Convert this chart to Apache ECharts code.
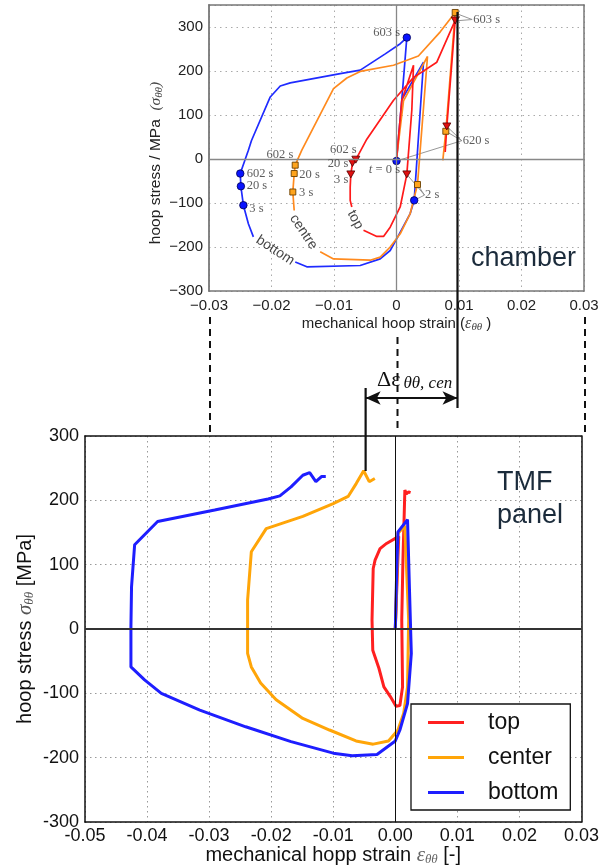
<!DOCTYPE html>
<html><head><meta charset="utf-8">
<script src="https://cdn.jsdelivr.net/npm/echarts@6/dist/echarts.min.js"></script>
<style>html,body{margin:0;padding:0;background:#fff}#c{width:602px;height:867px}</style>
</head><body><div id="c"></div>
<script>
// ---------- top chart (chamber): [strain, stress MPa] ----------
const GAP = ['-', '-'];
const chamberBottom = [[0,-4.5],[0.00085,135],[0.00432,220],[0.00283,-94],[0.00219,-124],[0.00005,-181],[-0.00101,-208],[-0.00261,-227],[-0.00581,-242],[-0.01435,-245],[-0.0162,-234],GAP,
  [-0.0229,-177],[-0.0237,-147],[-0.0245,-105],[-0.0249,-62],[-0.025,-33],[-0.0237,20],[-0.0232,42],[-0.0202,141],[-0.0186,166],[-0.0170,173],[-0.0090,194],[-0.0058,202],[-0.0018,239],[0.0006,262],[0.00165,276],[0.00085,135]];
const chamberCentre = [[0,0],[0.00112,132],[0.00496,233],[0.00336,-58],[0.00219,-124],[0.00059,-170],[-0.00101,-200],[-0.00261,-223],[-0.00421,-230],[-0.01008,-227],[-0.01221,-211],GAP,
  [-0.01637,-117],[-0.01659,-75],[-0.01637,-33],[-0.01621,-14],[-0.01515,20],[-0.01008,160],[-0.00795,184],[-0.0058,199],[-0.00048,213],[0.0035,234],[0.007,289],[0.00939,333],[0.00789,63],[0.00741,-3]];
const chamberTop = [[0,0],[0.00085,133],[0.00272,213],[0.00299,209],[0.00245,111],[0.00165,-35],[0.00059,-109],[-0.00101,-155],[-0.00208,-176],[-0.00315,-176],[-0.00528,-162],GAP,
  [-0.00715,-109],[-0.00741,-94],[-0.00741,-64],[-0.00731,-35],[-0.00704,-9],[-0.00651,-1.5],[-0.00475,45],[-0.0005,133],[0.0027,185],[0.00645,220],[0.00939,315],[0.00805,74],[0.00779,16]];
const markBottom = [[0,-4.5],[0.00283,-94],[-0.0245,-105],[-0.0249,-62],[-0.025,-33],[0.00165,276]];
const markCentre = [[0.00336,-58],[-0.01659,-75],[-0.01637,-33],[-0.01621,-14],[0.00939,333],[0.00789,63]];
const markTop = [[0.00165,-35],[-0.00731,-35],[-0.00704,-9],[-0.00651,-1.5],[0.00939,315],[0.00805,74]];
// time labels: [strain, stress, text]
const timeLabelsLeftAligned = [[-0.02397,-32.5,'602 s'],[-0.02397,-61,'20 s'],[-0.02355,-112,'3 s'],[-0.01555,-35,'20 s'],[-0.0156,-77,'3 s'],[0.00456,-82,'2 s'],[0.01059,41.6,'620 s'],[0.01229,316,'603 s']];
const timeLabelsRightAligned = [[-0.01651,9,'602 s'],[-0.00637,20,'602 s'],[-0.00771,-11,'20 s'],[-0.00771,-46,'3 s'],[0.00056,-23.5,'{i|t} = 0 s'],[0.00056,286,'603 s']];
const leaders = [
  [[0.0121,317],[0.0095,331]],[[0.0121,317],[0.0095,314]],
  [[0.01045,41.6],[0.00805,74]],[[0.01045,41.6],[0.00789,63]],[[0.01045,41.6],[0,-4.5]],
  [[0.00448,-82],[0.00165,-35]],[[0.00448,-82],[0.00336,-58]],[[0.00448,-82],[0.00283,-94]]
];
const curveNames = [[-0.0194,-208,'bottom',-33],[-0.01488,-166,'centre',-56],[-0.00661,-138,'top',-62]];
const topXTicks = {min:-0.03, max:0.03, step:0.01};
const topYTicks = {min:-300, max:350, step:100};

// ---------- bottom chart (TMF panel) ----------
const panelTop = [[0,0],[0.00055,144],[-0.00141,133],[-0.00246,125],[-0.00326,107],[-0.00356,94],[-0.00375,14],[-0.00363,-33],[-0.00264,-61],[-0.00184,-90],[-0.0008,-105],[0.00012,-120],[0.00074,-119],[0.00117,-90],[0.00104,14],[0.00123,107],[0.00141,169],[0.00154,216],[0.00178,210],[0.00215,213],[0.00246,212]];
const panelCenter = [[0,0],[0.0003,100],[0.00043,149],[0.00154,160],[0.00215,14],[0.00197,-90],[0.00135,-131],[0.00043,-157],[-0.0011,-174],[-0.00356,-179],[-0.00633,-174],[-0.0106,-157],[-0.0149,-139],[-0.0192,-110],[-0.0217,-84],[-0.0232,-59],[-0.0238,-38],[-0.0238,45],[-0.0232,120],[-0.0208,156],[-0.0149,175],[-0.01,195],[-0.0076,206],[-0.0063,226],[-0.0051,246],[-0.0042,229],[-0.0033,234]];
const panelBottom = [[0,0],[0.0002,80],[0.00043,151],[0.00197,170],[0.00227,66],[0.00258,-38],[0.00197,-116],[0.00074,-157],[0,-174],[-0.00295,-195],[-0.00694,-197],[-0.01,-193],[-0.0168,-175],[-0.0241,-152],[-0.0315,-126],[-0.0377,-100],[-0.0404,-79],[-0.0426,-59],[-0.0426,4],[-0.0425,66],[-0.042,131],[-0.0383,167],[-0.0291,185],[-0.0205,202],[-0.0186,207],[-0.0168,221],[-0.0149,239],[-0.0138,243],[-0.0128,229],[-0.0119,237],[-0.0112,237]];
const legendNames = ['top','center','bottom'];

// ---------- connecting guides (overlay, y in figure rows 0..867) ----------
const guideDashed = [[[-0.03,317],[-0.03,432]],[[0,337],[0,432]],[[0.03,317],[0.03,432]]];
const guideChamberPeak = [[0.0096,12],[0.0096,408]];
const guidePanelPeak = [[-0.0051,388],[-0.0051,471]];
const guideArrowRow = 398;

const join = segs => segs.reduce((a,s,i)=> i ? a.concat([GAP], s) : a.concat(s), []);
const uminus = v => (v < 0 ? '\u2212' + String(Math.abs(+v.toFixed(2))) : String(+v.toFixed(2)));
const SANS = '"Liberation Sans", Arial, sans-serif';
const SERIF = '"Liberation Serif", "Times New Roman", serif';

const chart = echarts.init(document.getElementById('c'), null, {renderer:'canvas'});
const lineS = (name, data, color, w, xi) => ({type:'line', name, data, xAxisIndex:xi, yAxisIndex:xi, symbol:'none', connectNulls:false, animation:false,
  lineStyle:{color, width:w}, itemStyle:{color}, z:3});
const frameAxis = (gi, pos, color, w) => ({type:'value', gridIndex:gi, position:pos,
  axisLine:{show:true, onZero:false, lineStyle:{color, width:w}}, axisTick:{show:false}, axisLabel:{show:false}, splitLine:{show:false}});
const nameRich = (fs, sfs, subfs, lh, subColor) => ({
  a:{fontSize:fs, fontFamily:SANS, lineHeight:lh, verticalAlign:'middle'},
  s:{fontSize:sfs, fontFamily:SERIF, fontStyle:'italic', lineHeight:lh, verticalAlign:'middle', color:subColor},
  sub:{fontSize:subfs, fontFamily:SERIF, fontStyle:'italic', lineHeight:subfs, verticalAlign:'bottom', color:subColor}});

const option = {
  animation:false,
  backgroundColor:'#fff',
  grid:[
    {left:209, top:5, width:375, height:286},
    {left:85, top:436, width:500, height:386},
    {left:85, top:0, width:500, height:867}
  ],
  xAxis:[
    {type:'value', gridIndex:0, min:topXTicks.min, max:topXTicks.max, interval:topXTicks.step, position:'bottom',
     axisLine:{show:true, onZero:false, lineStyle:{color:'#777', width:1.5}}, axisTick:{show:false},
     splitLine:{show:true, lineStyle:{color:'#aaa', type:[1.5,4], width:1}},
     axisLabel:{formatter:uminus, fontSize:15, color:'#222', fontFamily:SANS, margin:7},
     name:'{a|mechanical hoop strain (}{s|ε}{sub|θθ}{a| )}', nameLocation:'middle', nameGap:24, nameMoveOverlap:false,
     nameTextStyle:{color:'#222', rich:nameRich(15, 16, 11, 18, '#444')}},
    {type:'value', gridIndex:1, min:-0.05, max:0.03, interval:0.01, position:'bottom',
     axisLine:{show:true, onZero:false, lineStyle:{color:'#111', width:1.5}}, axisTick:{show:false},
     splitLine:{show:true, lineStyle:{color:'#999', type:[1.5,3.5], width:1}},
     axisLabel:{formatter:v=>(+v).toFixed(2), fontSize:18, color:'#111', fontFamily:SANS, margin:5},
     name:'{a|mechanical hopp strain }{s|ε}{sub|θθ}{a| [-]}', nameLocation:'middle', nameGap:22, nameMoveOverlap:false,
     nameTextStyle:{color:'#111', rich:nameRich(20, 21, 13, 22, '#666')}},
    {type:'value', gridIndex:2, min:-0.05, max:0.03, show:false},
    Object.assign(frameAxis(0, 'top', '#777', 1.5), {min:topXTicks.min, max:topXTicks.max}),
    Object.assign(frameAxis(1, 'top', '#111', 1.5), {min:-0.05, max:0.03})
  ],
  yAxis:[
    {type:'value', gridIndex:0, min:topYTicks.min, max:topYTicks.max, interval:topYTicks.step, position:'left',
     axisLine:{show:true, onZero:false, lineStyle:{color:'#777', width:1.8}}, axisTick:{show:false},
     splitLine:{show:true, lineStyle:{color:'#aaa', type:[1.5,4], width:1}},
     axisLabel:{formatter:v=> v > 300 ? '' : uminus(v), fontSize:15, color:'#222', fontFamily:SANS, margin:6},
     name:'{a|hoop stress / MPa  }{s|(σ}{sub|θθ}{s|)}', nameLocation:'middle', nameGap:44, nameMoveOverlap:false,
     nameTextStyle:{color:'#222', padding:[0,30,0,0], rich:nameRich(15.5, 15.5, 11, 18, '#444')}},
    {type:'value', gridIndex:1, min:-300, max:300, interval:100, position:'left',
     axisLine:{show:true, onZero:false, lineStyle:{color:'#111', width:1.5}}, axisTick:{show:false},
     splitLine:{show:true, lineStyle:{color:'#999', type:[1.5,3.5], width:1}},
     axisLabel:{fontSize:18, color:'#111', fontFamily:SANS, margin:6},
     name:'{a|hoop stress }{s|σ}{sub|θθ}{a| [MPa]}', nameLocation:'middle', nameGap:49, nameMoveOverlap:false,
     nameTextStyle:{color:'#111', rich:nameRich(20, 21, 13, 22, '#555')}},
    {type:'value', gridIndex:2, min:0, max:867, inverse:true, show:false},
    Object.assign(frameAxis(0, 'right', '#777', 1.5), {min:topYTicks.min, max:topYTicks.max}),
    Object.assign(frameAxis(1, 'right', '#111', 1.5), {min:-300, max:300})
  ],
  legend:{data:legendNames, orient:'vertical', left:411, top:704, padding:[7,12,6,17], itemGap:12, itemWidth:36, itemHeight:3, icon:'rect',
    borderColor:'#111', borderWidth:1.3, backgroundColor:'#fff', selectedMode:false,
    textStyle:{fontSize:23, fontFamily:SANS, color:'#111', padding:[0,0,0,19], lineHeight:23}},
  graphic:[
    {type:'text', left:471, top:245, silent:true, style:{text:'chamber', font:'27px "Liberation Sans", Arial, sans-serif', fill:'#1b2b3b'}},
    {type:'text', left:497, top:466, silent:true, style:{text:'TMF\npanel', font:'27px "Liberation Sans", Arial, sans-serif', lineHeight:33, fill:'#1b2b3b'}},
    {type:'text', left:377, top:369, silent:true, z:20, style:{text:'{a|Δε}{b|θθ, cen}', rich:{
      a:{fontSize:22, fontFamily:SERIF, fill:'#111', lineHeight:24, verticalAlign:'middle'},
      b:{fontSize:17, fontFamily:SERIF, fontStyle:'italic', fill:'#111', lineHeight:10, verticalAlign:'bottom', padding:[0,0,0,3]}}}}
  ],
  series:[
    // zero lines
    {type:'line', xAxisIndex:0, yAxisIndex:0, data:[], silent:true,
     markLine:{silent:true, symbol:'none', label:{show:false}, lineStyle:{color:'#888', type:'solid', width:1.3}, data:[{yAxis:0},{xAxis:0}]}},
    {type:'line', xAxisIndex:1, yAxisIndex:1, data:[], silent:true,
     markLine:{silent:true, symbol:'none', label:{show:false}, data:[{yAxis:0, lineStyle:{color:'#333', type:'solid', width:2}},{xAxis:0, lineStyle:{color:'#111', type:'solid', width:1}}]}},
    // top chart curves
    lineS('chamber bottom', chamberBottom, '#1f2bff', 1.7, 0),
    lineS('chamber centre', chamberCentre, '#ff8a1e', 1.7, 0),
    lineS('chamber top', chamberTop, '#ff1a1a', 1.7, 0),
    {type:'line', xAxisIndex:0, yAxisIndex:0, data:join(leaders), symbol:'none', connectNulls:false, silent:true,
     lineStyle:{color:'#8a8a8a', width:0.9}, z:2},
    {type:'scatter', xAxisIndex:0, yAxisIndex:0, data:markBottom, symbol:'circle', symbolSize:7.5,
     itemStyle:{color:'#0a14ff', borderColor:'#000050', borderWidth:0.8, opacity:1}, z:4},
    {type:'scatter', xAxisIndex:0, yAxisIndex:0, data:markCentre, symbol:'rect', symbolSize:6,
     itemStyle:{color:'#ffa41c', borderColor:'#6b4000', borderWidth:0.9, opacity:1}, z:4},
    {type:'scatter', xAxisIndex:0, yAxisIndex:0, data:markTop, symbol:'triangle', symbolRotate:180, symbolSize:[8,7],
     itemStyle:{color:'#e01010', borderColor:'#500000', borderWidth:0.8, opacity:1}, z:4},
    {type:'scatter', xAxisIndex:0, yAxisIndex:0, data:timeLabelsLeftAligned, symbolSize:0, silent:true, z:5,
     label:{show:true, position:'right', distance:0, formatter:p=>p.data[2], fontSize:12.5, fontFamily:SERIF, color:'#333'}},
    {type:'scatter', xAxisIndex:0, yAxisIndex:0, data:timeLabelsRightAligned, symbolSize:0, silent:true, z:5,
     label:{show:true, position:'left', distance:0, formatter:p=>p.data[2], fontSize:12.5, fontFamily:SERIF, color:'#333',
       rich:{i:{fontSize:13, fontFamily:SERIF, fontStyle:'italic', color:'#333'}}}},
    ...curveNames.map(c => ({type:'scatter', xAxisIndex:0, yAxisIndex:0, data:[[c[0],c[1]]], symbolSize:0, silent:true, z:5,
     label:{show:true, position:'inside', formatter:c[2], rotate:c[3], fontSize:14, fontFamily:SANS, color:'#111'}})),
    // bottom chart curves
    lineS('top', panelTop, '#ff2020', 3, 1),
    lineS('center', panelCenter, '#ffa508', 3, 1),
    lineS('bottom', panelBottom, '#1e1eff', 3, 1),
    // guides overlay
    {type:'line', xAxisIndex:2, yAxisIndex:2, data:join(guideDashed), symbol:'none', connectNulls:false, silent:true, z:6,
     lineStyle:{color:'#111', width:2, type:[7,5]}},
    {type:'line', xAxisIndex:2, yAxisIndex:2, data:join([guideChamberPeak, guidePanelPeak]), symbol:'none', connectNulls:false, silent:true, z:7,
     lineStyle:{color:'#111', width:2.2},
     markLine:{silent:true, symbol:['arrow','arrow'], symbolSize:[10,15], label:{show:false}, lineStyle:{color:'#111', width:2, type:'solid'},
       data:[[{coord:[guidePanelPeak[0][0], guideArrowRow]},{coord:[guideChamberPeak[0][0], guideArrowRow]}]]}}
  ]
};
chart.setOption(option);
</script></body></html>
